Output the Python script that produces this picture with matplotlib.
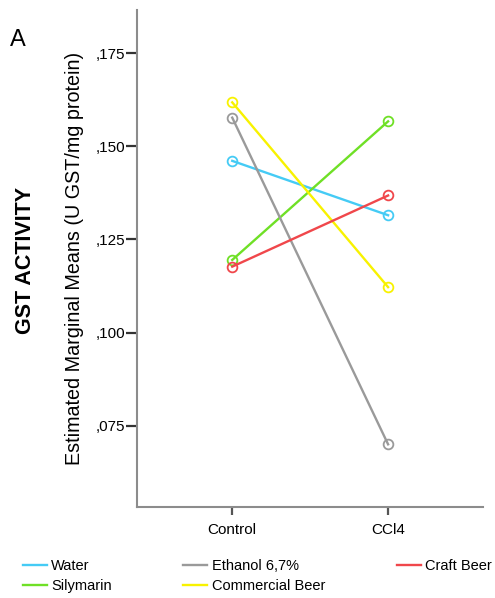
import matplotlib
matplotlib.use("Agg")
import matplotlib.pyplot as plt

plt.rcParams['font.family'] = ['Liberation Sans', 'DejaVu Sans']

# Estimated marginal means of GST activity (U GST/mg protein)
conditions = ["Control", "CCl4"]
water = [0.1461, 0.1315]
ethanol = [0.1577, 0.0700]
craft_beer = [0.1177, 0.1368]
silymarin = [0.1195, 0.1567]
commercial_beer = [0.1618, 0.1122]

y_ticks = [0.075, 0.100, 0.125, 0.150, 0.175]
y_tick_labels = [",075", ",100", ",125", ",150", ",175"]

groups = [
    ("Water", water, "#45CBF5"),
    ("Silymarin", silymarin, "#6FE026"),
    ("Ethanol 6,7%", ethanol, "#9A9A9A"),
    ("Commercial Beer", commercial_beer, "#F8F200"),
    ("Craft Beer", craft_beer, "#F0474B"),
]

fig = plt.figure(figsize=(4.95, 5.98), dpi=100)
ax = fig.add_axes([0.2774, 0.1517, 0.6984, 0.8316])

x = list(range(len(conditions)))
handles = []
for name, vals, color in groups:
    h, = ax.plot(x, vals, color=color, lw=1.7, marker="o", markersize=7,
                 markerfacecolor="none", markeredgecolor=color,
                 markeredgewidth=1.3, label=name)
    handles.append(h)

ax.set_xlim(-0.609, 1.609)
ax.set_ylim(0.0531, 0.1866)
ax.set_xticks(x)
ax.set_xticklabels(conditions, fontsize=11)
ax.set_yticks(y_ticks)
ax.set_yticklabels(y_tick_labels, fontsize=11)

for side in ("top", "right"):
    ax.spines[side].set_visible(False)
for side in ("left", "bottom"):
    ax.spines[side].set_color("#8C8C8C")
    ax.spines[side].set_linewidth(1.5)
ax.tick_params(axis="y", length=8, width=1.6, color="#333333", pad=1)
ax.tick_params(axis="x", length=6, width=1.6, color="#555555", pad=5)

ax.set_ylabel("Estimated Marginal Means (U GST/mg protein)", fontsize=14.2)
ax.yaxis.set_label_coords(-0.153, 0.5)

fig.text(0.052, 0.565, "GST ACTIVITY", rotation=90, fontsize=15.5,
         fontweight="bold", ha="center", va="center")
fig.text(0.02, 0.933, "A", fontsize=17, ha="left", va="center")

leg_handles = handles[:]
leg = fig.legend(handles=leg_handles,
                 labels=[h.get_label() for h in leg_handles],
                 ncol=3, loc="upper left", bbox_to_anchor=(0.046, 0.0645),
                 bbox_transform=fig.transFigure,
                 frameon=False, fontsize=10.5, handlelength=1.65,
                 handletextpad=0.3, columnspacing=4.9, labelspacing=0.4,
                 borderaxespad=0.0, borderpad=0.0)
for line in leg.get_lines():
    line.set_marker("")
    line.set_linewidth(1.7)

fig.savefig("out.png", dpi=100)
